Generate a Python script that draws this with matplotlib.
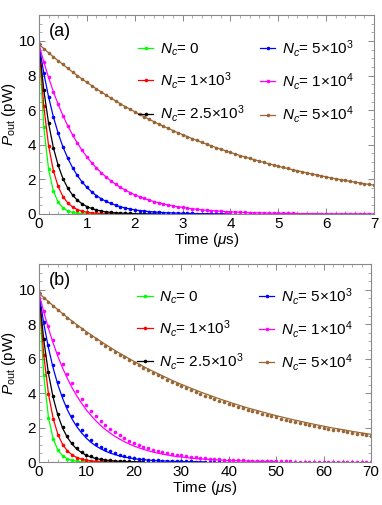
import numpy as np
import matplotlib
matplotlib.use("Agg")
import matplotlib.pyplot as plt
from matplotlib.lines import Line2D
from matplotlib.ticker import MultipleLocator

plt.rcParams['font.family'] = ['Liberation Sans', 'DejaVu Sans']
plt.rcParams['mathtext.fontset'] = 'custom'
plt.rcParams['mathtext.rm'] = 'Liberation Sans'
plt.rcParams['mathtext.it'] = 'Liberation Sans:italic'

labels = [r'$N_c$= 0', r'$N_c$= 1×10$^3$', r'$N_c$= 2.5×10$^3$',
          r'$N_c$= 5×10$^3$', r'$N_c$= 1×10$^4$', r'$N_c$= 5×10$^4$']
colors = ['#00ff00', '#ff0000', '#000000', '#0000ff', '#ff00ff', '#996633']

# ---- panel (a): samples every 0.1 us (line and points coincide) ----
a_nc0 = [9.80, 5.03, 2.58, 1.33, 0.68, 0.35, 0.18, 0.09, 0.05, 0.02, 0.01, 0.01, 0.00]
a_nc1e3 = [9.80, 6.22, 3.95, 2.51, 1.59, 1.01, 0.64, 0.41, 0.26, 0.16, 0.10, 0.07,
           0.04, 0.03, 0.02, 0.01, 0.01, 0.00]
a_nc25e2 = [9.80, 7.17, 5.25, 3.84, 2.81, 2.05, 1.50, 1.10, 0.80, 0.59, 0.43, 0.32,
            0.23, 0.17, 0.12, 0.09, 0.07, 0.05, 0.04, 0.03, 0.02, 0.01, 0.01, 0.01,
            0.01, 0.00]
a_nc5e3 = [9.80, 8.14, 6.77, 5.62, 4.67, 3.88, 3.23, 2.68, 2.23, 1.85, 1.54, 1.28,
           1.06, 0.88, 0.73, 0.61, 0.51, 0.42, 0.35, 0.29, 0.24, 0.20, 0.17, 0.14,
           0.12, 0.10, 0.08, 0.07, 0.06, 0.05, 0.04, 0.03, 0.03, 0.02, 0.02, 0.02,
           0.01, 0.01, 0.01, 0.01, 0.01]
a_nc1e4 = [9.80, 8.79, 7.89, 7.07, 6.34, 5.69, 5.10, 4.58, 4.11, 3.68, 3.30, 2.96,
           2.66, 2.39, 2.14, 1.92, 1.72, 1.54, 1.39, 1.24, 1.11, 1.00, 0.90, 0.80,
           0.72, 0.65, 0.58, 0.52, 0.47, 0.42, 0.38, 0.34, 0.30, 0.27, 0.24, 0.22,
           0.20, 0.18, 0.16, 0.14, 0.13, 0.11, 0.10, 0.09, 0.08, 0.07, 0.07, 0.06,
           0.05, 0.05, 0.04, 0.04, 0.03, 0.03, 0.02, 0.02, 0.02, 0.02, 0.02, 0.01,
           0.01, 0.01, 0.01, 0.01, 0.01, 0.01, 0.01, 0.01, 0.01, 0.00, 0.00]
a_nc5e4 = [9.80, 9.56, 9.32, 9.08, 8.86, 8.64, 8.42, 8.21, 8.00, 7.80, 7.61, 7.42,
           7.23, 7.05, 6.88, 6.70, 6.54, 6.37, 6.21, 6.06, 5.91, 5.76, 5.62, 5.47,
           5.34, 5.20, 5.07, 4.95, 4.82, 4.70, 4.59, 4.47, 4.36, 4.25, 4.14, 4.04,
           3.94, 3.84, 3.74, 3.65, 3.56, 3.47, 3.38, 3.30, 3.22, 3.14, 3.06, 2.98,
           2.91, 2.83, 2.76, 2.69, 2.63, 2.56, 2.50, 2.44, 2.37, 2.31, 2.26, 2.20,
           2.15, 2.09, 2.04, 1.99, 1.94, 1.89, 1.84, 1.80, 1.75, 1.71, 1.67]
series_a = [a_nc0, a_nc1e3, a_nc25e2, a_nc5e3, a_nc1e4, a_nc5e4]

# ---- panel (b): points every 1 us ----
b_pts_nc5e4 = [9.80, 9.54, 9.29, 9.05, 8.81, 8.58, 8.35, 8.14, 7.92, 7.71, 7.51, 7.31,
               7.12, 6.94, 6.75, 6.58, 6.40, 6.24, 6.07, 5.91, 5.76, 5.61, 5.46, 5.32,
               5.18, 5.04, 4.91, 4.78, 4.65, 4.53, 4.41, 4.30, 4.18, 4.07, 3.97, 3.86,
               3.76, 3.66, 3.57, 3.47, 3.38, 3.29, 3.21, 3.12, 3.04, 2.96, 2.88, 2.81,
               2.73, 2.66, 2.59, 2.52, 2.46, 2.39, 2.33, 2.27, 2.21, 2.15, 2.10, 2.04,
               1.99, 1.94, 1.88, 1.83, 1.79, 1.74, 1.69, 1.65, 1.61, 1.56, 1.52]
b_pts = [a_nc0, a_nc1e3, a_nc25e2, a_nc5e3, a_nc1e4, b_pts_nc5e4]

# ---- panel (b): fitted curves, every 1 us (N_c = 5e4: every 2 us) ----
b_fit_nc25e2 = [9.80, 7.10, 5.14, 3.72, 2.70, 1.95, 1.42, 1.03, 0.74, 0.54, 0.39, 0.28,
                0.20, 0.15, 0.11, 0.08, 0.06, 0.04, 0.03, 0.02, 0.02, 0.01, 0.01]
b_fit_nc5e3 = [9.80, 8.05, 6.62, 5.44, 4.47, 3.68, 3.02, 2.48, 2.04, 1.68, 1.38, 1.13,
               0.93, 0.77, 0.63, 0.52, 0.43, 0.35, 0.29, 0.24, 0.19, 0.16, 0.13, 0.11,
               0.09, 0.07, 0.06, 0.05, 0.04, 0.03, 0.03, 0.02, 0.02, 0.02, 0.01, 0.01]
b_fit_nc1e4 = [9.80, 8.71, 7.75, 6.89, 6.12, 5.44, 4.84, 4.30, 3.82, 3.40, 3.02, 2.69,
               2.39, 2.12, 1.89, 1.68, 1.49, 1.33, 1.18, 1.05, 0.93, 0.83, 0.74, 0.65,
               0.58, 0.52, 0.46, 0.41, 0.36, 0.32, 0.29, 0.26, 0.23, 0.20, 0.18, 0.16,
               0.14, 0.13, 0.11, 0.10, 0.09, 0.08, 0.07, 0.06, 0.06, 0.05, 0.04, 0.04,
               0.03, 0.03, 0.03]
b_fit_nc5e4 = [9.80, 9.31, 8.84, 8.39, 7.97, 7.57, 7.19, 6.83, 6.48, 6.16, 5.85, 5.55,
               5.27, 5.01, 4.75, 4.51, 4.29, 4.07, 3.87, 3.67, 3.49, 3.31, 3.14, 2.99,
               2.84, 2.69, 2.56, 2.43, 2.31, 2.19, 2.08, 1.97, 1.88, 1.78, 1.69, 1.61]
b_fit = [a_nc0, a_nc1e3, b_fit_nc25e2, b_fit_nc5e3, b_fit_nc1e4, b_fit_nc5e4]
b_fit_steps = [1.0, 1.0, 1.0, 1.0, 1.0, 2.0]

step_a = 0.1
step_b = 1.0

W, H = 382, 505
fig = plt.figure(figsize=(W / 100, H / 100), dpi=100)

def px_axes(l, r, t, b):
    return fig.add_axes([l / W, 1 - b / H, (r - l) / W, (b - t) / H])

ax_a = px_axes(39, 374, 15, 214)
ax_b = px_axes(39, 371, 264, 462)

FS = 11

def style(ax, xmax, xmaj, xmin, xlabel):
    ax.set_xlim(0, xmax)
    ax.set_ylim(0, 11.5)
    ax.xaxis.set_major_locator(MultipleLocator(xmaj))
    ax.xaxis.set_minor_locator(MultipleLocator(xmin))
    ax.yaxis.set_major_locator(MultipleLocator(2))
    ax.yaxis.set_minor_locator(MultipleLocator(0.5))
    ax.tick_params(which='both', direction='in', top=True, right=True,
                   color='#888888', labelsize=FS, pad=2)
    ax.tick_params(which='major', length=4, width=0.7)
    ax.tick_params(which='minor', length=2, width=0.5)
    for s in ax.spines.values():
        s.set_color('#888888')
        s.set_linewidth(0.8)
    ax.set_xlabel(xlabel, fontsize=FS, labelpad=0)
    ax.set_ylabel(r'$P_{\rm out}$ (pW)', fontsize=FS, labelpad=1)

# panel (a)
for vals, c in zip(series_a, colors):
    t = np.arange(len(vals)) * step_a
    ax_a.plot(t, vals, color=c, lw=0.9, marker='o', ms=2.6, mew=0)
style(ax_a, 7, 1, 0.2, r'Time ($\mu$s)')
ax_a.text(0.03, 0.915, '(a)', transform=ax_a.transAxes, fontsize=13, va='center', ha='left')

# panel (b)
for pts, fit, st, c in zip(b_pts, b_fit, b_fit_steps, colors):
    tf = np.arange(len(fit)) * st
    ax_b.plot(tf, fit, color=c, lw=0.9)
    tp = np.arange(len(pts)) * step_b
    ax_b.plot(tp, pts, ls='none', color=c, marker='o', ms=2.6, mew=0)
style(ax_b, 70, 10, 2, r'Time ($\mu$s)')
ax_b.text(0.03, 0.915, '(b)', transform=ax_b.transAxes, fontsize=13, va='center', ha='left')

for ax, top in ((ax_a, 0.885), (ax_b, 0.89)):
    handles = [Line2D([], [], color=c, lw=0.9, marker='o', ms=2.6, mew=0) for c in colors]
    ax.legend(handles, labels, ncol=2, loc='upper left', bbox_to_anchor=(0.296, top),
              frameon=False, fontsize=FS, handlelength=1.0, handletextpad=0.45,
              labelspacing=0.8, columnspacing=1.0, borderpad=0, borderaxespad=0)

fig.savefig('out.png', dpi=100)
